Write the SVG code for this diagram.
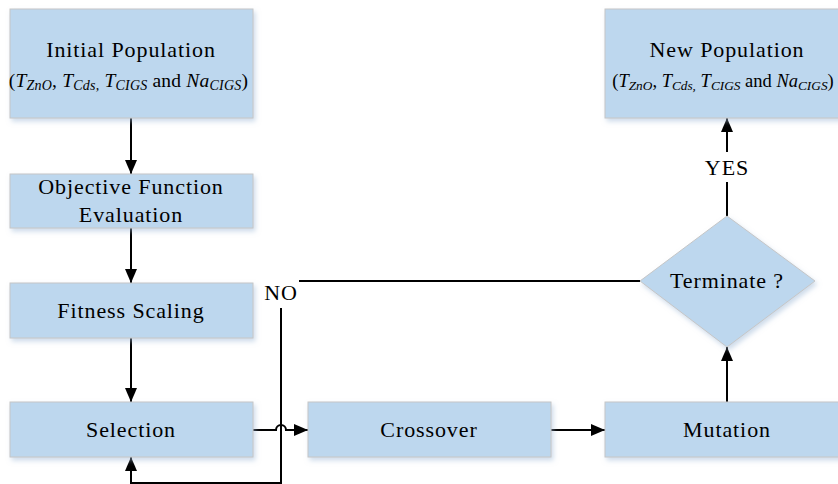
<svg xmlns="http://www.w3.org/2000/svg" width="838" height="484" viewBox="0 0 838 484">
<defs>
<style>
.box{fill:#BDD7EE;stroke:#C6C6C6;stroke-width:1;filter:url(#sh)}
text{font-family:'Liberation Serif','DejaVu Serif','Times New Roman',serif;fill:#000;text-anchor:middle}
.t{font-size:22px;letter-spacing:0.9px}
.s{font-size:19.5px;letter-spacing:0.2px}
.s2{font-size:18.5px;letter-spacing:0px}
.i{font-style:italic}
.sub{font-style:italic;font-size:14px}
.sub2{font-style:italic;font-size:13.3px}
.ln{fill:none;stroke:#000;stroke-width:2}
</style>
<filter id="sh" x="-10%" y="-10%" width="130%" height="140%">
<feDropShadow dx="2" dy="3" stdDeviation="2.5" flood-color="#9DB8D6" flood-opacity="0.5"/>
</filter>
<marker id="ah" viewBox="0 0 14 12" refX="14" refY="6" markerWidth="14" markerHeight="12" markerUnits="userSpaceOnUse" orient="auto">
<path d="M0,0 L14,6 L0,12 Z" fill="#000"/>
</marker>
</defs>
<rect width="838" height="484" fill="#fff"/>
<g id="connectors">
<line class="ln" x1="131" y1="118" x2="131" y2="174" marker-end="url(#ah)"/>
<line class="ln" x1="131" y1="228" x2="131" y2="283" marker-end="url(#ah)"/>
<line class="ln" x1="131" y1="338" x2="131" y2="402" marker-end="url(#ah)"/>
<path class="ln" d="M253,430 H276 A5,5 0 0 1 286,430 H308" marker-end="url(#ah)"/>
<line class="ln" x1="551" y1="430" x2="605" y2="430" marker-end="url(#ah)"/>
<line class="ln" x1="727" y1="402" x2="727" y2="347" marker-end="url(#ah)"/>
<line class="ln" x1="727" y1="216" x2="727" y2="182"/>
<line class="ln" x1="727" y1="152" x2="727" y2="118" marker-end="url(#ah)"/>
<line class="ln" x1="299" y1="281" x2="640" y2="281"/>
<path class="ln" d="M281,308 V483 H131 V457" marker-end="url(#ah)"/>
<text class="t" x="727" y="175">YES</text>
<text class="t" x="281" y="300">NO</text>
</g>
<g id="initial">
<rect class="box" x="10" y="9" width="243" height="109"/>
<text class="t" x="131" y="57">Initial Population</text>
<text class="s" x="128.5" y="87">(<tspan class="i">T</tspan><tspan class="sub" dy="3">ZnO</tspan><tspan dy="-3">, </tspan><tspan class="i">T</tspan><tspan class="sub" dy="3">Cds,</tspan><tspan dy="-3"> </tspan><tspan class="i">T</tspan><tspan class="sub" dy="3">CIGS</tspan><tspan dy="-3"> and </tspan><tspan class="i">Na</tspan><tspan class="sub" dy="3">CIGS</tspan><tspan dy="-3">)</tspan></text>
</g>
<g id="objective">
<rect class="box" x="10" y="174" width="243" height="54"/>
<text class="t" x="131" y="194">Objective Function</text>
<text class="t" x="131" y="222">Evaluation</text>
</g>
<g id="fitness">
<rect class="box" x="10" y="283" width="243" height="55"/>
<text class="t" x="131" y="318">Fitness Scaling</text>
</g>
<g id="selection">
<rect class="box" x="10" y="402" width="243" height="55"/>
<text class="t" x="131" y="437">Selection</text>
</g>
<g id="crossover">
<rect class="box" x="308" y="402" width="243" height="55"/>
<text class="t" x="429" y="437">Crossover</text>
</g>
<g id="mutation">
<rect class="box" x="605" y="402" width="243" height="55"/>
<text class="t" x="727" y="437">Mutation</text>
</g>
<g id="terminate">
<polygon class="box" points="727,216 815,281 727,347 640,281"/>
<text class="t" x="727" y="288">Terminate ?</text>
</g>
<g id="newpop">
<rect class="box" x="605" y="9" width="243" height="109"/>
<text class="t" x="727" y="57">New Population</text>
<text class="s2" x="723" y="87">(<tspan class="i">T</tspan><tspan class="sub2" dy="3">ZnO</tspan><tspan dy="-3">, </tspan><tspan class="i">T</tspan><tspan class="sub2" dy="3">Cds,</tspan><tspan dy="-3"> </tspan><tspan class="i">T</tspan><tspan class="sub2" dy="3">CIGS</tspan><tspan dy="-3"> and </tspan><tspan class="i">Na</tspan><tspan class="sub2" dy="3">CIGS</tspan><tspan dy="-3">)</tspan></text>
</g>
</svg>
